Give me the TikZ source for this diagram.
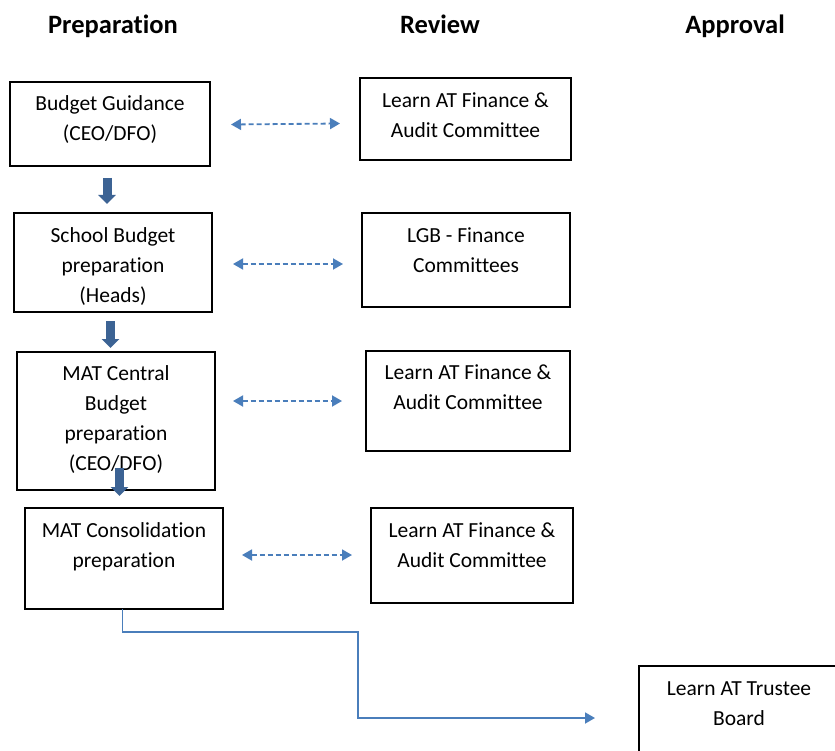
\documentclass[tikz,border=0pt]{standalone}
\usepackage{fontspec}
\setmainfont{Carlito}[Ligatures={NoCommon,NoContextual,NoRequired}]
\usetikzlibrary{calc,arrows.meta}
\definecolor{flowblue}{RGB}{74,126,187}
\definecolor{stepblue}{RGB}{60,99,148}
\tikzset{
  stagebox/.style={draw=black, line width=1.3pt, rectangle, inner sep=0pt, outer sep=0pt, anchor=north west},
  boxtext/.style={anchor=north, inner sep=0pt, align=center, font=\fontsize{21.5}{30}\selectfont},
  heading/.style={anchor=base, inner sep=0pt, font=\fontsize{26.5}{32}\selectfont\bfseries},
  nextstep/.style={draw=stepblue, line width=9pt, -{Triangle[width=17pt,length=9pt]}},
  exchange/.style={draw=flowblue, line width=1.8pt, dash pattern=on 5pt off 3pt,
    {Triangle[width=11pt,length=10pt]}-{Triangle[width=11pt,length=10pt]}},
  handover/.style={draw=flowblue, line width=1.8pt, -{Triangle[width=11pt,length=10pt]}}
}
\newcommand{\firstline}{\rule{0pt}{20pt}}
\begin{document}
\begin{tikzpicture}[x=1pt, y=-1pt]
\useasboundingbox (0,0) rectangle (835,751);
\fill[white] (0,0) rectangle (835,751);
\clip (0,0) rectangle (835,751);

% column headings
\node[heading] (hprep) at (113,34) {Preparation};
\node[heading] (hrev)  at (440,34) {Review};
\node[heading] (happ)  at (735,34) {Approval};

% preparation column
\node[stagebox, minimum width=200pt, minimum height=84pt]  (b1) at (10,82)  {};
\node[stagebox, minimum width=198pt, minimum height=99pt]  (b2) at (14,213) {};
\node[stagebox, minimum width=198pt, minimum height=138pt] (b3) at (17,352) {};
\node[stagebox, minimum width=198pt, minimum height=101pt] (b4) at (25,508) {};

% review column
\node[stagebox, minimum width=211pt, minimum height=82pt]  (r1) at (360,78)  {};
\node[stagebox, minimum width=208pt, minimum height=94pt]  (r2) at (362,213) {};
\node[stagebox, minimum width=204pt, minimum height=100pt] (r3) at (366,351) {};
\node[stagebox, minimum width=202pt, minimum height=95pt]  (r4) at (371,508) {};

% approval column
\node[stagebox, minimum width=200pt, minimum height=104pt] (ap) at (639,666) {};

% box texts
\node[boxtext] (b1t) at ($(b1.north)+(0,8)$) {\firstline Budget Guidance\\(CEO/DFO)};
\node[boxtext] (b2t) at ($(b2.north)+(0,9)$) {\firstline School Budget\\preparation\\(Heads)};
\node[boxtext] (b3t) at ($(b3.north)+(0,8)$) {\firstline MAT Central\\Budget\\preparation\\(CEO/DFO)};
\node[boxtext] (b4t) at ($(b4.north)+(0,9)$) {\firstline MAT Consolidation\\preparation};
\node[boxtext] (r1t) at ($(r1.north)+(0,9)$) {\firstline Learn AT Finance \&\\Audit Committee};
\node[boxtext] (r2t) at ($(r2.north)+(0,9)$) {\firstline LGB - Finance\\Committees};
\node[boxtext] (r3t) at ($(r3.north)+(0,8)$) {\firstline Learn AT Finance \&\\Audit Committee};
\node[boxtext] (r4t) at ($(r4.north)+(0,9)$) {\firstline Learn AT Finance \&\\Audit Committee};
\node[boxtext] (apt) at ($(ap.north)+(0,9)$) {\firstline Learn AT Trustee\\Board};

% block arrows between preparation steps
\draw[nextstep] ($(b1.south)+(-3,12)$) -- ($(b2.north)+(-6,-9)$);
\draw[nextstep] ($(b2.south)+(-2.5,9)$) -- ($(b3.north)+(-5.5,-4)$);
\draw[nextstep] ($(b3.south)+(3.5,-22)$) -- ($(b4.north)+(-4.5,-12)$);

% two-way exchanges with the review bodies
\draw[exchange] ($(b1.east)+(21,0.5)$) -- ($(r1.west)+(-20,4.5)$);
\draw[exchange] ($(b2.east)+(21,1.5)$) -- ($(r2.west)+(-19,4)$);
\draw[exchange] ($(b3.east)+(18,-20)$) -- ($(r3.west)+(-24,0)$);
\draw[exchange] ($(b4.east)+(19,-3.5)$) -- ($(r4.west)+(-19,-0.5)$);

% consolidated budget goes to the trustee board
\coordinate (bend) at (358,632);
\draw[handover] ($(b4.south)+(-1.5,0)$) |- (bend) |- ($(ap.west)+(-44,0)$);
\end{tikzpicture}
\end{document}
